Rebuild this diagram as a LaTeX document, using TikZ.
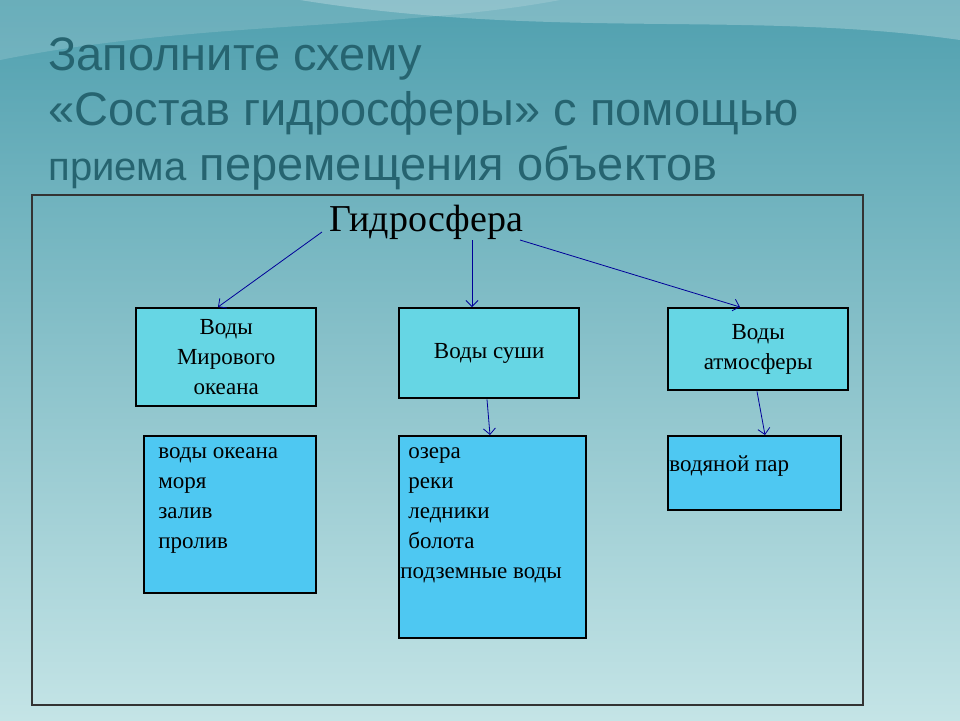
\documentclass[tikz,border=0pt]{standalone}
\usepackage{fontspec}
\setmainfont{Liberation Serif}
\newfontfamily\titlefont{Liberation Sans}
\usetikzlibrary{arrows.meta, positioning}
\definecolor{bgtop}{RGB}{80,160,175}
\definecolor{bgbot}{RGB}{196,228,230}
\definecolor{titlecol}{RGB}{38,100,112}
\definecolor{upperbox}{RGB}{102,214,228}
\definecolor{lowerbox}{RGB}{78,200,242}
\tikzset{
  kind/.style={draw=black, line width=1.2pt, fill=upperbox, align=center, anchor=north west, font=\fontsize{11.5}{15}\selectfont},
  list/.style={draw=black, line width=1.2pt, fill=lowerbox, anchor=north west, inner sep=0pt},
  items/.style={anchor=north west, align=left, inner sep=0pt, font=\fontsize{11.5}{15}\selectfont},
  heading/.style={anchor=base west, inner sep=0pt, text=titlecol, font=\titlefont\fontsize{23.5}{28}\selectfont},
  link/.style={-{Straight Barb[length=3pt,width=6pt]}, draw=blue!60!black, thin}
}
\begin{document}
\begin{tikzpicture}[x=0.5pt, y=-0.5pt]
  % background
  \shade[top color=bgtop, bottom color=bgbot] (0,0) rectangle (960,720);
  \useasboundingbox (0,0) rectangle (960,720);
  \fill[white, opacity=0.25] (300,0) .. controls (550,40) and (750,10) .. (960,40) -- (960,0) -- cycle;
  \fill[white, opacity=0.15] (0,60) .. controls (200,20) and (400,30) .. (560,0) -- (0,0) -- cycle;

  % title
  \node[heading] (t1) at (48,70) {Заполните схему};
  \node[heading] (t2) at (48,125) {«Состав гидросферы» с помощью};
  \node[heading] (t3) at (48,180) {{\fontsize{20}{24}\selectfont приема} перемещения объектов};

  % frame
  \draw[black!80, line width=0.6pt] (32,195) rectangle (863,705);

  % header
  \node[font=\fontsize{19}{22}\selectfont] (hydro) at (426,222) {Гидросфера};
  \coordinate (hl) at (322,232);
  \coordinate (hm) at (472,240);
  \coordinate (hr) at (520,240);

  % kinds
  \node[kind, minimum width=90, minimum height=49] (ocean) at (135,307) {Воды\\Мирового\\океана};
  \node[kind, minimum width=90, minimum height=45] (land) at (398,307) {Воды суши};
  \node[kind, minimum width=90, minimum height=41] (air) at (667,307) {Воды\\атмосферы};

  % lists
  \node[list, minimum width=86, minimum height=78.5] (oceanlist) at (143,435) {};
  \node[list, minimum width=93.5, minimum height=101] (landlist) at (398,435) {};
  \node[list, minimum width=86.5, minimum height=37] (airlist) at (667,435) {};
  \node[items] (oceanitems) at (158,447) {воды океана\\моря\\залив\\пролив};
  \node[items] (landitems) at (400,447) {\hspace*{4pt}озера\\\hspace*{4pt}реки\\\hspace*{4pt}ледники\\\hspace*{4pt}болота\\подземные воды};
  \node[items] (airitems) at (669,455) {водяной пар};

  % connectors
  \draw[link] (hl) -- (ocean.north -| 218,0);
  \draw[link] (hm) -- (land.north -| 472,0);
  \draw[link] (hr) -- (air.north -| 740,0);
  \draw[link] (land.south -| 487,0) -- (landlist.north -| 490,0);
  \draw[link] (air.south -| 757,0) -- (airlist.north -| 765,0);
\end{tikzpicture}
\end{document}
